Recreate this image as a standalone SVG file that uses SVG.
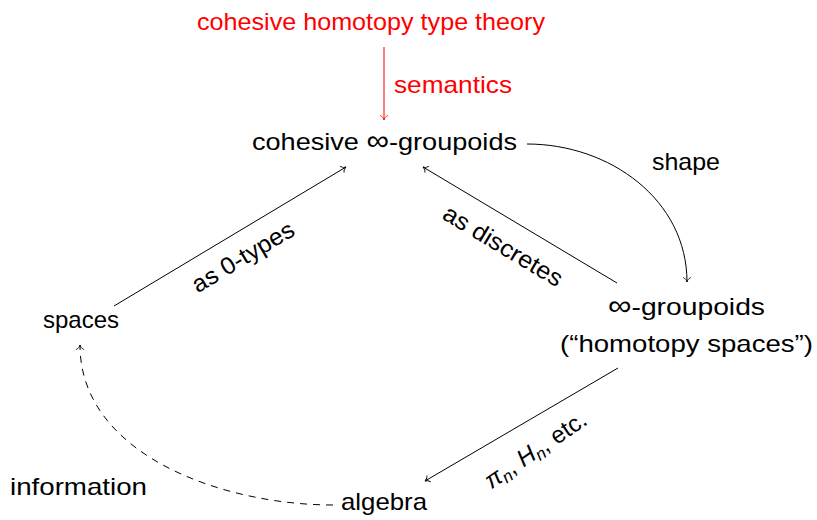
<svg xmlns="http://www.w3.org/2000/svg" width="817" height="520" viewBox="0 0 817 520">
<defs>
<style>
text{font-family:"Liberation Sans","DejaVu Sans",sans-serif;font-size:24px;fill:#000}
.red{fill:#ff0000}
.edge{fill:none;stroke:#000;stroke-width:1}
.dash{stroke-dasharray:7,6}
.m{font-style:italic}
.inf{font-size:28px}
</style>
<marker id="ah" viewBox="-6 -5 8 10" markerWidth="8" markerHeight="10" refX="0" refY="0" orient="auto" markerUnits="userSpaceOnUse">
<path d="M-4.5,-3.8 C-3.6,-1.6 -1.6,-0.4 0,0 C-1.6,0.4 -3.6,1.6 -4.5,3.8" fill="none" stroke="#000" stroke-width="0.9"/>
</marker>
<marker id="ahr" viewBox="-6 -5 8 10" markerWidth="8" markerHeight="10" refX="0" refY="0" orient="auto" markerUnits="userSpaceOnUse">
<path d="M-4.5,-3.8 C-3.6,-1.6 -1.6,-0.4 0,0 C-1.6,0.4 -3.6,1.6 -4.5,3.8" fill="none" stroke="#ff0000" stroke-width="0.9"/>
</marker>
</defs>
<g id="connectors">
<path class="edge" d="M384,47 L384,120" style="stroke:#ff0000" marker-end="url(#ahr)"/>
<path class="edge" d="M527,144 C610,144 687,200 687,282" marker-end="url(#ah)"/>
<path class="edge" d="M617,283 L423,167" marker-end="url(#ah)"/>
<path class="edge" d="M114,306 L346,167" marker-end="url(#ah)"/>
<path class="edge" d="M618,368 L425,481" marker-end="url(#ah)"/>
<path class="edge dash" d="M333,505 C223,505 80,455 80,345" marker-end="url(#ah)"/>
</g>
<g id="labels">
<text class="red" x="394" y="93" textLength="118" lengthAdjust="spacingAndGlyphs">semantics</text>
<text x="652" y="170" textLength="68" lengthAdjust="spacingAndGlyphs">shape</text>
<text transform="translate(503,246) rotate(31)" x="0" y="8" text-anchor="middle" textLength="135" lengthAdjust="spacingAndGlyphs">as discretes</text>
<text transform="translate(243,257) rotate(-31)" x="0" y="8" text-anchor="middle" textLength="115" lengthAdjust="spacingAndGlyphs">as 0-types</text>
<text transform="translate(535,449) rotate(-34)" x="0" y="9" text-anchor="middle" font-size="26"><tspan class="m">π</tspan><tspan class="m" font-size="17" dy="4">n</tspan><tspan dy="-4">, </tspan><tspan class="m">H</tspan><tspan class="m" font-size="17" dy="4">n</tspan><tspan dy="-4">, etc.</tspan></text>
<text x="10" y="495" textLength="137" lengthAdjust="spacingAndGlyphs">information</text>
</g>
<g id="n-hott"><text class="red" x="197" y="30" textLength="348" lengthAdjust="spacingAndGlyphs">cohesive homotopy type theory</text></g>
<g id="n-cohesive"><text x="252" y="150" textLength="265" lengthAdjust="spacingAndGlyphs">cohesive <tspan class="inf">∞</tspan>-groupoids</text></g>
<g id="n-groupoids"><text x="608" y="315" textLength="157" lengthAdjust="spacingAndGlyphs"><tspan class="inf">∞</tspan>-groupoids</text><text x="560" y="352" textLength="253" lengthAdjust="spacingAndGlyphs">(“homotopy spaces”)</text></g>
<g id="n-spaces"><text x="43" y="328" textLength="76" lengthAdjust="spacingAndGlyphs">spaces</text></g>
<g id="n-algebra"><text x="341" y="510" textLength="86" lengthAdjust="spacingAndGlyphs">algebra</text></g>
</svg>
